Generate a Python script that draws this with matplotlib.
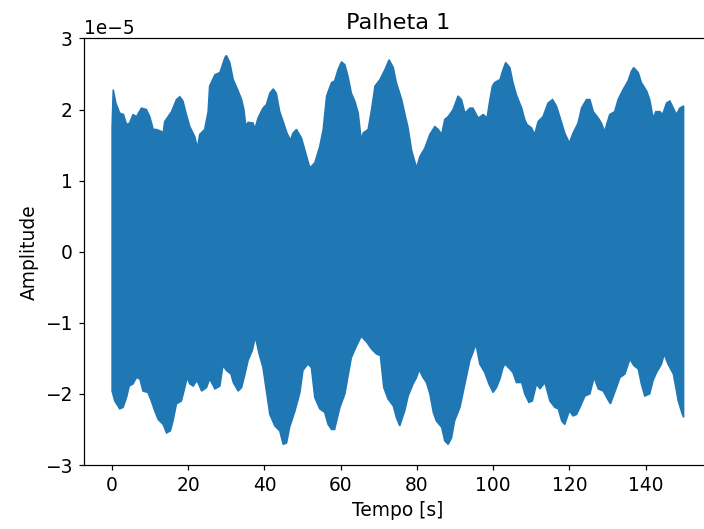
import numpy as np
import matplotlib
matplotlib.use("Agg")
import matplotlib.pyplot as plt

t_upper = [0, 0.3, 1.0, 2.0, 3.0, 3.8, 4.6, 5.5, 6.4, 7.7,
           9.0, 9.9, 10.8, 11.6, 13.0, 13.1, 13.8, 14.7, 15.6, 16.9,
           17.8, 18.6, 19.5, 20.4, 21.7, 22.4, 23.0, 24.3, 25.2, 25.6,
           27.0, 28.3, 29.6, 30.0, 30.9, 31.8, 33.1, 34.0, 34.6, 35.1,
           35.7, 37.0, 37.5, 38.3, 39.6, 40.5, 41.4, 42.3, 43.1, 44.0,
           44.9, 45.9, 46.8, 47.5, 48.4, 49.7, 50.6, 51.9, 53.2, 54.5,
           55.4, 56.3, 57.6, 58.4, 59.3, 60.2, 61.1, 61.9, 62.8, 63.7,
           64.6, 65.4, 65.9, 67.2, 68.1, 69.0, 70.3, 71.6, 72.7, 73.8,
           74.6, 76.0, 76.8, 77.7, 78.6, 79.9, 80.8, 82.1, 83.4, 84.7,
           85.6, 86.5, 87.3, 88.2, 89.5, 90.8, 91.7, 92.6, 93.9, 94.7,
           96.1, 97.4, 98.4, 99.1, 99.8, 100.4, 101.8, 102.6, 103.3, 104.4,
           105.2, 106.1, 107.5, 108.3, 108.9, 110.1, 110.9, 111.8, 113.1, 114.4,
           115.6, 116.6, 117.5, 118.8, 120.0, 121.0, 122.3, 123.2, 124.5, 125.4,
           126.3, 127.6, 128.4, 129.3, 129.8, 130.6, 131.9, 132.8, 134.1, 135.4,
           136.3, 136.9, 138.1, 138.9, 140.3, 141.1, 142.0, 142.7, 143.8, 144.5,
           145.5, 146.4, 147.3, 148.1, 149.0, 150.0]
amp_upper = [1.76, 2.28, 2.09, 1.95, 1.93, 1.79, 1.81, 1.93, 1.90, 2.02,
             2.00, 1.90, 1.72, 1.72, 1.69, 1.55, 1.83, 1.90, 1.97, 2.14,
             2.18, 2.12, 1.93, 1.76, 1.62, 1.46, 1.65, 1.72, 1.97, 2.33,
             2.49, 2.52, 2.73, 2.76, 2.66, 2.42, 2.26, 2.14, 2.00, 1.77,
             1.82, 1.81, 1.73, 1.88, 2.02, 2.07, 2.23, 2.29, 2.23, 1.97,
             1.83, 1.67, 1.57, 1.67, 1.72, 1.60, 1.43, 1.18, 1.25, 1.48,
             1.72, 2.19, 2.38, 2.40, 2.56, 2.67, 2.63, 2.47, 2.23, 2.12,
             1.95, 1.57, 1.67, 1.72, 2.00, 2.33, 2.42, 2.56, 2.70, 2.59,
             2.38, 2.14, 1.95, 1.74, 1.43, 1.18, 1.34, 1.46, 1.65, 1.76,
             1.72, 1.65, 1.86, 1.90, 2.00, 2.19, 2.14, 1.95, 2.02, 2.02,
             1.88, 1.93, 1.88, 2.12, 2.33, 2.38, 2.42, 2.56, 2.66, 2.59,
             2.38, 2.21, 2.02, 1.86, 1.79, 1.74, 1.65, 1.83, 1.90, 2.09,
             2.14, 2.05, 1.90, 1.67, 1.53, 1.67, 1.81, 2.02, 2.14, 2.14,
             1.97, 1.88, 1.81, 1.69, 1.79, 1.93, 1.97, 2.14, 2.28, 2.40,
             2.54, 2.59, 2.52, 2.38, 2.26, 2.14, 1.88, 1.97, 1.97, 1.93,
             2.09, 2.12, 2.02, 1.93, 2.02, 2.05]

t_lower = [0, 0.7, 2.0, 2.9, 3.8, 4.5, 5.5, 6.4, 7.3, 8.1,
           9.4, 10.3, 11.2, 12.1, 13.4, 14.3, 15.3, 16.0, 16.9, 18.2,
           19.1, 19.7, 20.4, 21.3, 22.3, 23.5, 24.8, 25.6, 27.0, 28.3,
           29.1, 30.0, 31.2, 31.8, 33.1, 34.0, 34.8, 35.7, 36.8, 37.6,
           38.6, 39.6, 40.5, 41.4, 42.7, 44.0, 44.9, 45.8, 46.6, 48.0,
           49.3, 50.1, 51.4, 52.3, 53.2, 54.5, 55.8, 56.7, 57.6, 58.4,
           59.8, 61.1, 62.2, 62.8, 64.2, 65.4, 66.8, 68.1, 69.4, 70.4,
           71.3, 72.4, 73.8, 74.6, 75.5, 76.8, 77.7, 79.0, 79.9, 80.6,
           81.6, 82.5, 83.4, 84.3, 85.1, 86.5, 87.3, 88.2, 89.1, 89.9,
           91.3, 92.6, 93.9, 94.7, 95.5, 96.5, 97.8, 98.9, 100.0, 100.9,
           101.8, 102.6, 103.1, 104.4, 105.2, 106.1, 107.5, 108.3, 109.4, 110.3,
           111.4, 112.3, 113.6, 114.9, 116.2, 117.1, 118.0, 118.8, 120.0, 121.0,
           121.9, 122.8, 124.1, 125.4, 126.5, 127.6, 128.9, 129.8, 130.8, 131.9,
           133.3, 134.6, 135.9, 136.9, 138.1, 138.9, 139.8, 141.1, 142.0, 142.9,
           144.2, 144.9, 145.9, 147.3, 148.6, 149.5, 150.0]
amp_lower = [-1.96, -2.10, -2.21, -2.19, -2.05, -1.89, -1.86, -1.77, -1.79, -1.96,
             -1.98, -2.10, -2.24, -2.36, -2.43, -2.55, -2.52, -2.38, -2.14, -2.10,
             -1.91, -1.77, -1.86, -1.89, -1.81, -1.96, -1.91, -1.79, -1.93, -1.89,
             -1.60, -1.67, -1.72, -1.84, -1.96, -1.91, -1.74, -1.53, -1.39, -1.20,
             -1.44, -1.63, -1.96, -2.29, -2.45, -2.52, -2.71, -2.69, -2.47, -2.24,
             -1.98, -1.67, -1.58, -1.63, -2.05, -2.21, -2.26, -2.43, -2.50, -2.50,
             -2.19, -2.00, -1.67, -1.49, -1.32, -1.19, -1.27, -1.37, -1.44, -1.46,
             -1.91, -2.07, -2.17, -2.33, -2.45, -2.24, -2.03, -1.86, -1.77, -1.66,
             -1.77, -1.84, -2.00, -2.26, -2.38, -2.47, -2.66, -2.71, -2.62, -2.38,
             -2.19, -1.86, -1.53, -1.42, -1.30, -1.58, -1.70, -1.86, -1.98, -1.91,
             -1.79, -1.63, -1.58, -1.65, -1.70, -1.84, -1.84, -2.00, -2.12, -2.10,
             -1.86, -1.93, -1.84, -2.10, -2.19, -2.21, -2.38, -2.43, -2.24, -2.31,
             -2.29, -2.19, -2.03, -2.00, -1.77, -1.93, -1.96, -2.05, -2.14, -1.98,
             -1.77, -1.72, -1.51, -1.60, -1.65, -1.86, -2.03, -2.00, -1.81, -1.70,
             -1.58, -1.44, -1.58, -1.72, -2.10, -2.26, -2.33]

scale = 1e-5

plt.rcParams.update({"font.size": 12.2})

fig = plt.figure(figsize=(6.4, 4.81), dpi=110)
# axes run slightly past the right edge, like the cropped original
ax = fig.add_axes([83.5 / 704, 64 / 529, 628.7 / 704, 426.5 / 529])

xs = np.concatenate([t_upper, t_lower[::-1]])
ys = np.concatenate([amp_upper, amp_lower[::-1]]) * scale
ax.fill(xs, ys, color="C0", lw=1.0)

ax.set_ylim(-3 * scale, 3 * scale)
ax.set_title("Palheta 1")
ax.set_xlabel("Tempo [s]")
ax.set_ylabel("Amplitude")

fig.savefig("out.png", dpi=110)
